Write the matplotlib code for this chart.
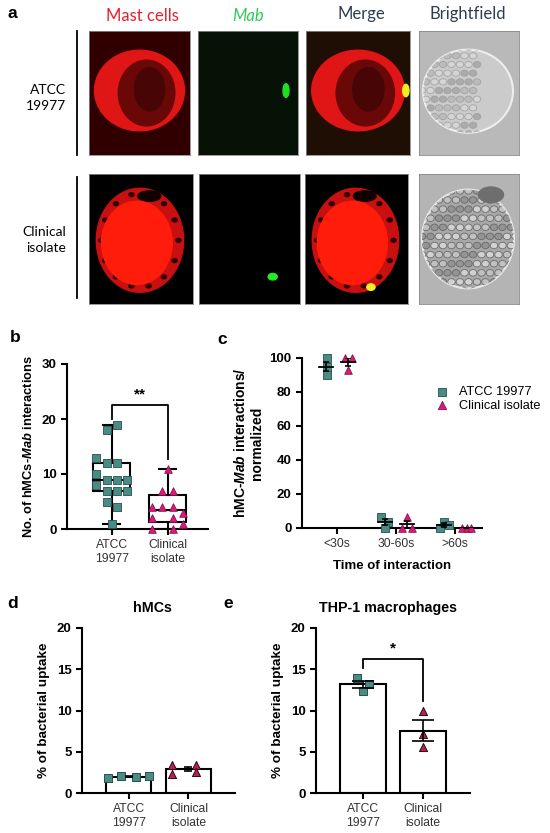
import numpy as np
import matplotlib
matplotlib.use('Agg')
import matplotlib.pyplot as plt
from matplotlib.patches import Ellipse

plt.rcParams['font.family'] = ['Liberation Sans', 'DejaVu Sans']
plt.rcParams['mathtext.fontset'] = 'custom'
plt.rcParams['mathtext.it'] = 'Liberation Sans:italic:bold'
plt.rcParams['mathtext.rm'] = 'Liberation Sans:bold'
plt.rcParams['mathtext.bf'] = 'Liberation Sans:bold'

# ---- data ----
groups = ['ATCC\n19977', 'Clinical\nisolate']

# b: interactions per cell (box plot, min to max)
b_atcc = [19, 18, 13, 12, 12, 10, 9, 9, 9, 8, 7, 7, 7, 5, 4, 1]
b_atcc_dx = [.09, -.09, -.28, -.09, .09, -.28, -.09, .09, .28, -.28, -.09, .09, .28, -.09, .09, 0]
b_clin = [11, 7, 7, 4, 4, 4, 3, 2, 2, 1, 0, 0]
b_clin_dx = [0, -.1, .09, -.28, -.1, .09, .28, -.28, .09, .28, -.28, .09]

# c: normalized interactions by time
times = ['<30s', '30-60s', '>60s']
c_atcc = [[100, 95, 90], [6.7, 3.8, 0], [0, 3.3, 1.9]]
c_atcc_dx = [[-.17, -.17, -.17], [-.25, -.14, -.19], [-.25, -.18, -.1]]
c_clin = [[100, 100, 93], [6.5, 0, 0], [0, 0, 0]]
c_clin_dx = [[.14, .25, .19], [.19, .11, .27], [.12, .2, .27]]

# d / e: bacterial uptake
d_atcc = [1.8, 2.1, 1.9, 2.1]
d_atcc_dx = [-.34, -.12, .12, .34]
d_clin = [3.4, 2.3, 3.4, 2.5]
d_clin_dx = [-.27, -.27, .13, .13]
e_atcc = [13.9, 13.25, 12.4]
e_atcc_dx = [-.1, .1, 0]
e_clin = [9.9, 7.2, 5.6]
e_clin_dx = [0, 0, 0]

teal, teal_e = '#4a8c84', '#24524d'
mag, mag_e = '#d81b7a', '#8e0f4d'
crim, crim_e = '#b5214f', '#2a0a12'

W, H = 550, 833
fig = plt.figure(figsize=(5.5, 8.33), dpi=100)


def px_axes(x0, y0, x1, y1):
    return fig.add_axes([x0 / W, 1 - y1 / H, (x1 - x0) / W, (y1 - y0) / H])


def ftext(x, y, s, **kw):
    fig.text(x / W, 1 - y / H, s, **kw)


def style(ax):
    for s in ['top', 'right']:
        ax.spines[s].set_visible(False)
    for s in ['left', 'bottom']:
        ax.spines[s].set_linewidth(1.5)
    ax.tick_params(width=1.5, length=4)
    for t in ax.get_yticklabels():
        t.set_fontweight('bold')
        t.set_fontsize(9.5)
    for t in ax.get_xticklabels():
        t.set_fontsize(8.7)
        t.set_color('#333333')


# ---- panel a: microscopy sketches ----
def img_axes(box, bg):
    ax = px_axes(*box)
    ax.set_xlim(0, 1)
    ax.set_ylim(0, 1)
    ax.set_facecolor(bg)
    ax.set_xticks([])
    ax.set_yticks([])
    for s in ax.spines.values():
        s.set_color('#888888')
        s.set_linewidth(0.6)
    return ax


def texture(ax, cell, shades, edge, xmax=1.0):
    k = 0
    for yy in np.arange(0.1, 0.95, 0.07):
        for xx in np.arange(0.03, xmax, 0.085):
            xo = xx + (0.04 if k % 2 else 0)
            e = Ellipse((xo, yy), 0.075, 0.05, facecolor=shades[(k + int(xo * 40)) % len(shades)],
                        edgecolor=edge, lw=0.6, alpha=0.8)
            ax.add_patch(e)
            e.set_clip_path(cell)
        k += 1


def red_cell_row1(ax):
    ax.add_patch(Ellipse((0.5, 0.52), 0.89, 0.65, color='#e01515'))
    ax.add_patch(Ellipse((0.57, 0.5), 0.56, 0.53, color='#6a0808'))
    ax.add_patch(Ellipse((0.6, 0.53), 0.3, 0.35, color='#480505'))


def red_cell_row2(ax):
    ax.add_patch(Ellipse((0.49, 0.49), 0.84, 0.8, color='#c81010'))
    ang = np.linspace(0, 2 * np.pi, 14, endpoint=False)
    for a in ang:
        ax.add_patch(Ellipse((0.49 + 0.37 * np.cos(a), 0.49 + 0.36 * np.sin(a)), 0.05, 0.03,
                             color='#300000'))
    ax.add_patch(Ellipse((0.58, 0.83), 0.22, 0.08, color='#100000'))
    ax.add_patch(Ellipse((0.46, 0.47), 0.68, 0.64, color='#ff1c0a'))


row1 = [(89, 31, 190, 155), (198, 31, 298, 155), (306, 31, 410, 155), (419, 31, 519, 155)]
row2 = [(89, 174, 193, 304), (199, 174, 300, 304), (305, 174, 408, 304), (419, 174, 519, 304)]

ax = img_axes(row1[0], '#300000')
red_cell_row1(ax)
ax = img_axes(row1[1], '#061206')
ax.add_patch(Ellipse((0.88, 0.52), 0.06, 0.11, color='#22dd22'))
ax = img_axes(row1[2], '#1e0e04')
red_cell_row1(ax)
ax.add_patch(Ellipse((0.96, 0.52), 0.06, 0.1, color='#f0f020'))
ax = img_axes(row1[3], '#b9b9b9')
cell = Ellipse((0.49, 0.515), 0.9, 0.67, facecolor='#cbcbcb', edgecolor='#eeeeee', lw=1.5)
ax.add_patch(cell)
texture(ax, cell, ['#b8b8b8', '#d8d8d8', '#a4a4a4'], '#9a9a9a', xmax=0.62)

ax = img_axes(row2[0], '#000000')
red_cell_row2(ax)
ax = img_axes(row2[1], '#000000')
ax.add_patch(Ellipse((0.73, 0.21), 0.09, 0.05, color='#22ee22'))
ax = img_axes(row2[2], '#000000')
red_cell_row2(ax)
ax.add_patch(Ellipse((0.64, 0.13), 0.08, 0.05, color='#f5f020'))
ax = img_axes(row2[3], '#b4b4b4')
cell = Ellipse((0.49, 0.5), 0.92, 0.76, facecolor='#a8a8a8', edgecolor='#e8e8e8', lw=1.5)
ax.add_patch(cell)
texture(ax, cell, ['#c8c8c8', '#909090', '#dcdcdc'], '#5a5a5a')
ax.add_patch(Ellipse((0.72, 0.84), 0.25, 0.12, color='#6e6e6e'))

ftext(142, 16, 'Mast cells', color='#e8202a', fontsize=12, ha='center', va='center', family='Lato')
ftext(248, 16, 'Mab', color='#2ecc55', fontsize=12, ha='center', va='center', family='Lato',
      style='italic')
ftext(361, 14, 'Merge', color='#2c3e50', fontsize=12, ha='center', va='center', family='Lato')
ftext(468, 14, 'Brightfield', color='#2c3e50', fontsize=12, ha='center', va='center', family='Lato')
ftext(66, 98, 'ATCC\n19977', fontsize=10, ha='right', va='center', family='Lato',
      multialignment='right', linespacing=1.45)
ftext(66, 240, 'Clinical\nisolate', fontsize=10, ha='right', va='center', family='Lato',
      multialignment='right', linespacing=1.45)
fig.add_artist(plt.Line2D([77 / W, 77 / W], [1 - 31 / H, 1 - 155 / H], color='k', lw=1.3))
fig.add_artist(plt.Line2D([77 / W, 77 / W], [1 - 177 / H, 1 - 298 / H], color='k', lw=1.3))

for lab, x, y in [('a', 12, 13), ('b', 15, 338), ('c', 222, 340), ('d', 13, 604), ('e', 228, 604)]:
    ftext(x, y, lab, fontsize=12.5, fontweight='bold', ha='center', va='center')

# ---- panel b ----
ax = px_axes(67, 364, 208, 529)
for i, vals in enumerate([b_atcc, b_clin]):
    q1, med, q3 = np.percentile(vals, [25, 50, 75], method='weibull')
    st = dict(med=med, q1=q1, q3=q3, whislo=min(vals), whishi=max(vals), fliers=[])
    ax.bxp([st], positions=[i], widths=0.66, showfliers=False, patch_artist=True,
           capwidths=0.3,
           boxprops=dict(facecolor='white', edgecolor='k', lw=1.5),
           medianprops=dict(color='k', lw=1.5),
           whiskerprops=dict(color='k', lw=1.5),
           capprops=dict(color='k', lw=1.5))
ax.scatter(np.array(b_atcc_dx), b_atcc, marker='s', s=26, c=teal, edgecolors=teal_e,
           linewidths=0.6, zorder=5, clip_on=False)
ax.scatter(1 + np.array(b_clin_dx), b_clin, marker='^', s=30, c=mag, edgecolors=mag_e,
           linewidths=0.6, zorder=5, clip_on=False)
ax.plot([0, 0, 1, 1], [20, 22.5, 22.5, 12.7], color='k', lw=1.3)
ax.text(0.5, 23.2, '**', ha='center', va='bottom', fontsize=11, fontweight='bold')
ax.set_xlim(-0.8, 1.72)
ax.set_ylim(0, 30)
ax.set_yticks([0, 10, 20, 30])
ax.set_xticks([0, 1])
ax.set_xticklabels(groups)
ax.set_ylabel(r'No. of hMCs-$Mab$ interactions', fontsize=9.3, fontweight='bold', labelpad=5)
style(ax)

# ---- panel c ----
ax = px_axes(302, 358, 482, 528)
for j in range(3):
    for vals, dx, mk, fc, ec, off in [(c_atcc[j], c_atcc_dx[j], 's', teal, teal_e, -0.18),
                                      (c_clin[j], c_clin_dx[j], '^', mag, mag_e, 0.19)]:
        ax.scatter(j + np.array(dx), vals, marker=mk, s=30, c=fc, edgecolors=ec,
                   linewidths=0.6, zorder=5, clip_on=False)
        m = np.mean(vals)
        se = np.std(vals, ddof=1) / np.sqrt(len(vals))
        ax.plot([j + off - 0.12, j + off + 0.12], [m, m], color='k', lw=1.3, zorder=6)
        ax.errorbar(j + off, m, yerr=se, color='k', lw=1.2, capsize=2.5, capthick=1.2, zorder=6)
h1 = ax.scatter([], [], marker='s', s=36, c=teal, edgecolors=teal_e, linewidths=0.6)
h2 = ax.scatter([], [], marker='^', s=36, c=mag, edgecolors=mag_e, linewidths=0.6)
ax.legend([h1, h2], ['ATCC 19977', 'Clinical isolate'], loc='center left',
          bbox_to_anchor=(423 / W, 1 - 399 / H), bbox_transform=fig.transFigure,
          frameon=False, fontsize=9.2, handletextpad=0.3, labelspacing=0.12, borderpad=0)
ax.set_xlim(-0.59, 2.46)
ax.set_ylim(0, 100)
ax.set_yticks(range(0, 101, 20))
ax.set_xticks([0, 1, 2])
ax.set_xticklabels(times)
ax.set_ylabel('hMC-$Mab$ interactions/\nnormalized', fontsize=10, fontweight='bold', labelpad=4)
ax.set_xlabel('Time of interaction', fontsize=9.5, fontweight='bold', labelpad=7)
style(ax)


# ---- panels d, e ----
def uptake(box, a_vals, a_dx, c_vals, c_dx, title, tx, cap):
    ax = px_axes(*box)
    for i, (vals, dx, mk, s) in enumerate([(a_vals, a_dx, 's', 26), (c_vals, c_dx, '^', 34)]):
        m = np.mean(vals)
        se = np.std(vals, ddof=1) / np.sqrt(len(vals))
        ax.bar(i, m, width=0.76, color='white', edgecolor='k', lw=1.5, zorder=2)
        fc, ec = (teal, teal_e) if mk == 's' else (crim, crim_e)
        ax.scatter(i + np.array(dx), vals, marker=mk, s=s, c=fc, edgecolors=ec,
                   linewidths=0.7, zorder=4)
        ax.errorbar(i, m, yerr=se, color='k', lw=1.2, capsize=cap, capthick=1.2, zorder=5)
    ax.set_xlim(-0.78, 1.78)
    ax.set_ylim(0, 20)
    ax.set_yticks([0, 5, 10, 15, 20])
    ax.set_xticks([0, 1])
    ax.set_xticklabels(groups)
    ax.set_ylabel('% of bacterial uptake', fontsize=9.7, fontweight='bold', labelpad=5)
    ftext(tx, 608, title, fontsize=10.3, fontweight='bold', ha='center', va='center')
    style(ax)
    return ax


uptake((82, 628, 235, 793), d_atcc, d_atcc_dx, d_clin, d_clin_dx, 'hMCs', 152, 3)
ax = uptake((316, 628, 470, 793), e_atcc, e_atcc_dx, e_clin, e_clin_dx, 'THP-1 macrophages', 388, 8)
ax.plot([0, 0, 1, 1], [15.1, 16.3, 16.3, 11.2], color='k', lw=1.3)
ax.text(0.5, 16.7, '*', ha='center', va='bottom', fontsize=11, fontweight='bold')

fig.savefig('out.png', dpi=100)
